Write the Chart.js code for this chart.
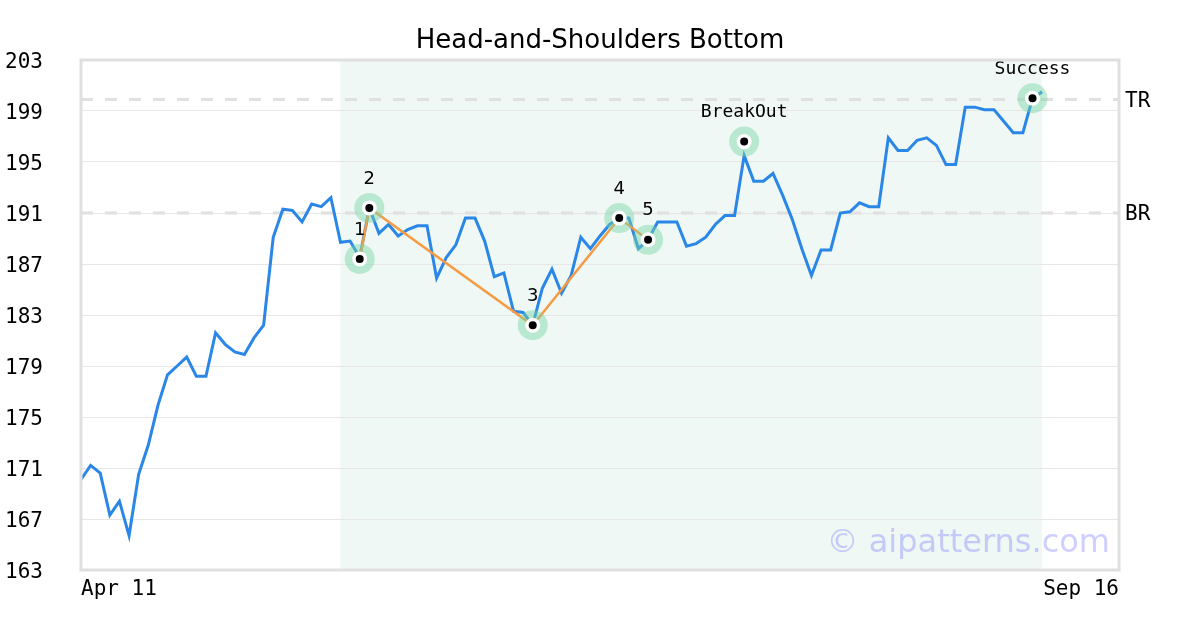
<!DOCTYPE html>
<html>
<head>
<meta charset="utf-8">
<script src="https://cdn.jsdelivr.net/npm/chart.js@4.4.1/dist/chart.umd.min.js"></script>
<style>
  html, body { margin: 0; padding: 0; background: #fff; }
</style>
</head>
<body>
<canvas id="hsChart" width="1200" height="630"></canvas>
<script>
// trading days, Apr 11 .. Sep 16
const categories = [
  "Apr 11","Apr 12","Apr 15","Apr 16","Apr 17","Apr 18","Apr 19","Apr 22","Apr 23","Apr 24","Apr 25","Apr 26","Apr 29","Apr 30",
  "May 1","May 2","May 3","May 6","May 7","May 8","May 9","May 10","May 13","May 14","May 15","May 16","May 17","May 20","May 21",
  "May 22","May 23","May 24","May 28","May 29","May 30","May 31",
  "Jun 3","Jun 4","Jun 5","Jun 6","Jun 7","Jun 10","Jun 11","Jun 12","Jun 13","Jun 14","Jun 17","Jun 18","Jun 20","Jun 21",
  "Jun 24","Jun 25","Jun 26","Jun 27","Jun 28",
  "Jul 1","Jul 2","Jul 3","Jul 5","Jul 8","Jul 9","Jul 10","Jul 11","Jul 12","Jul 15","Jul 16","Jul 17","Jul 18","Jul 19",
  "Jul 22","Jul 23","Jul 24","Jul 25","Jul 26","Jul 29","Jul 30","Jul 31",
  "Aug 1","Aug 2","Aug 5","Aug 6","Aug 7","Aug 8","Aug 9","Aug 12","Aug 13","Aug 14","Aug 15","Aug 16","Aug 19","Aug 20",
  "Aug 21","Aug 22","Aug 23","Aug 26","Aug 27","Aug 28","Aug 29","Aug 30",
  "Sep 3","Sep 4","Sep 5","Sep 6","Sep 9","Sep 10","Sep 11","Sep 12","Sep 13","Sep 16"
];

const closes = [
  170.1, 171.2, 170.6, 167.3, 168.4, 165.7, 170.5, 172.8, 175.9, 178.3,
  179.0, 179.7, 178.2, 178.2, 181.6, 180.7, 180.1, 179.9, 181.2, 182.2,
  189.1, 191.3, 191.2, 190.3, 191.7, 191.5, 192.2, 188.7, 188.8, 187.5,
  191.4, 189.4, 190.1, 189.2, 189.7, 190.0, 190.0, 185.9, 187.5, 188.5,
  190.6, 190.6, 188.8, 186.0, 186.3, 183.3, 183.2, 182.2, 185.1, 186.6,
  184.7, 186.1, 189.1, 188.2, 189.2, 190.1, 190.6, 190.6, 188.2, 188.9,
  190.3, 190.3, 190.3, 188.4, 188.6, 189.1, 190.1, 190.8, 190.8, 195.5,
  193.5, 193.5, 194.1, 192.4, 190.5, 188.2, 186.1, 188.1, 188.1, 191.0,
  191.1, 191.8, 191.5, 191.5, 196.9, 195.9, 195.9, 196.7, 196.9, 196.3,
  194.8, 194.8, 199.3, 199.3, 199.1, 199.1, 198.2, 197.3, 197.3, 200.0,
  200.5
];

const patternIdx = [29, 30, 47, 56, 59];
const patternVals = [187.4, 191.4, 182.2, 190.6, 188.9];
const patternLabels = ["1", "2", "3", "4", "5"];

const eventIdx = [69, 99];
const eventVals = [196.6, 200.0];
const eventLabels = ["BreakOut", "Success"];

const levelVals = [199.9, 191.0];
const levelLabels = ["TR", "BR"];

const zoneIdx = [27, 100];
const yTicks = [163, 167, 171, 175, 179, 183, 187, 191, 195, 199, 203];
const chartTitle = "Head-and-Shoulders Bottom";

const MONO = "'DejaVu Sans Mono', monospace";
const SANS = "'DejaVu Sans', sans-serif";

const patternPts = patternIdx.map((i, k) => ({ x: categories[i], y: patternVals[k] }));
const markerPts = patternPts.concat(eventIdx.map((i, k) => ({ x: categories[i], y: eventVals[k] })));

function markerSet(radius, color, order) {
  return {
    data: markerPts, showLine: false, order: order,
    pointRadius: radius, pointHoverRadius: radius,
    pointBackgroundColor: color, pointBorderWidth: 0
  };
}

const overlay = {
  id: "overlay",
  beforeDraw(chart) {
    const { ctx, chartArea: a, scales: { x } } = chart;
    const x0 = x.getPixelForValue(zoneIdx[0]);
    const x1 = x.getPixelForValue(zoneIdx[1]);
    ctx.save();
    ctx.fillStyle = "rgba(100,190,150,0.1)";
    ctx.fillRect(x0, a.top, x1 - x0, a.bottom - a.top);
    ctx.fillStyle = "#000";
    ctx.font = "26px " + SANS;
    ctx.textAlign = "center";
    ctx.textBaseline = "middle";
    ctx.fillText(chartTitle, (a.left + a.right) / 2, 41);
    ctx.restore();
  },
  beforeDatasetsDraw(chart) {
    const { ctx, chartArea: a, scales: { y } } = chart;
    ctx.save();
    levelVals.forEach((v, k) => {
      const py = y.getPixelForValue(v);
      ctx.strokeStyle = "#e0e0e0";
      ctx.lineWidth = 3;
      ctx.setLineDash([12, 12]);
      ctx.beginPath();
      ctx.moveTo(a.left, py);
      ctx.lineTo(a.right, py);
      ctx.stroke();
      ctx.setLineDash([]);
      ctx.fillStyle = "#000";
      ctx.font = "21px " + MONO;
      ctx.textAlign = "left";
      ctx.textBaseline = "middle";
      ctx.fillText(levelLabels[k], a.right + 6, py + 2);
    });
    ctx.restore();
  },
  afterDatasetsDraw(chart) {
    const { ctx, scales: { x, y } } = chart;
    ctx.save();
    ctx.fillStyle = "#000";
    ctx.textAlign = "center";
    ctx.textBaseline = "middle";
    ctx.font = "18px " + SANS;
    patternIdx.forEach((i, k) => {
      ctx.fillText(patternLabels[k], x.getPixelForValue(i), y.getPixelForValue(patternVals[k]) - 29);
    });
    ctx.font = "18px " + MONO;
    eventIdx.forEach((i, k) => {
      ctx.fillText(eventLabels[k], x.getPixelForValue(i), y.getPixelForValue(eventVals[k]) - 29);
    });
    ctx.restore();
  },
  afterDraw(chart) {
    const { ctx, chartArea: a } = chart;
    ctx.save();
    ctx.strokeStyle = "#e0e0e0";
    ctx.lineWidth = 3;
    ctx.strokeRect(a.left, a.top, a.right - a.left, a.bottom - a.top);
    ctx.fillStyle = "rgba(120,120,255,0.36)";
    ctx.font = "32px " + SANS;
    ctx.textAlign = "right";
    ctx.textBaseline = "middle";
    ctx.fillText("\u00a9 aipatterns.com", a.right - 9, a.bottom - 26);
    ctx.restore();
  }
};

new Chart(document.getElementById("hsChart"), {
  type: "line",
  data: {
    labels: categories,
    datasets: [
      {
        data: closes, order: 5,
        borderColor: "#2a87e8", borderWidth: 3,
        pointRadius: 0, tension: 0, fill: false
      },
      {
        data: patternPts, order: 4,
        borderColor: "#f59b45", borderWidth: 2.5,
        pointRadius: 0, tension: 0, fill: false
      },
      markerSet(15, "rgba(120,212,165,0.45)", 3),
      markerSet(7.5, "#ffffff", 2),
      markerSet(4, "#000000", 1)
    ]
  },
  options: {
    responsive: false,
    animation: false,
    devicePixelRatio: 1,
    layout: { padding: { left: 5, right: 81, top: 60, bottom: 0 } },
    plugins: {
      legend: { display: false },
      tooltip: { enabled: false },
      title: { display: false }
    },
    scales: {
      x: {
        type: "category",
        offset: false,
        grid: { display: false, drawTicks: false },
        border: { display: false },
        afterFit(scale) { scale.height = 60; },
        afterBuildTicks(scale) {
          scale.ticks = [{ value: 0 }, { value: categories.length - 1 }];
        },
        ticks: {
          autoSkip: false, maxRotation: 0, align: "inner", padding: 7,
          color: "#000", font: { family: MONO, size: 21 },
          callback: (v) => categories[v]
        }
      },
      y: {
        min: yTicks[0], max: yTicks[yTicks.length - 1],
        grid: { color: "#e6e6e6", lineWidth: 1, drawTicks: false },
        border: { display: false },
        afterFit(scale) { scale.width = 76; },
        afterBuildTicks(scale) { scale.ticks = yTicks.map((v) => ({ value: v })); },
        ticks: {
          crossAlign: "far", padding: 8, labelOffset: 3,
          color: "#000", font: { family: MONO, size: 21 }
        }
      }
    }
  },
  plugins: [overlay]
});
</script>
</body>
</html>
